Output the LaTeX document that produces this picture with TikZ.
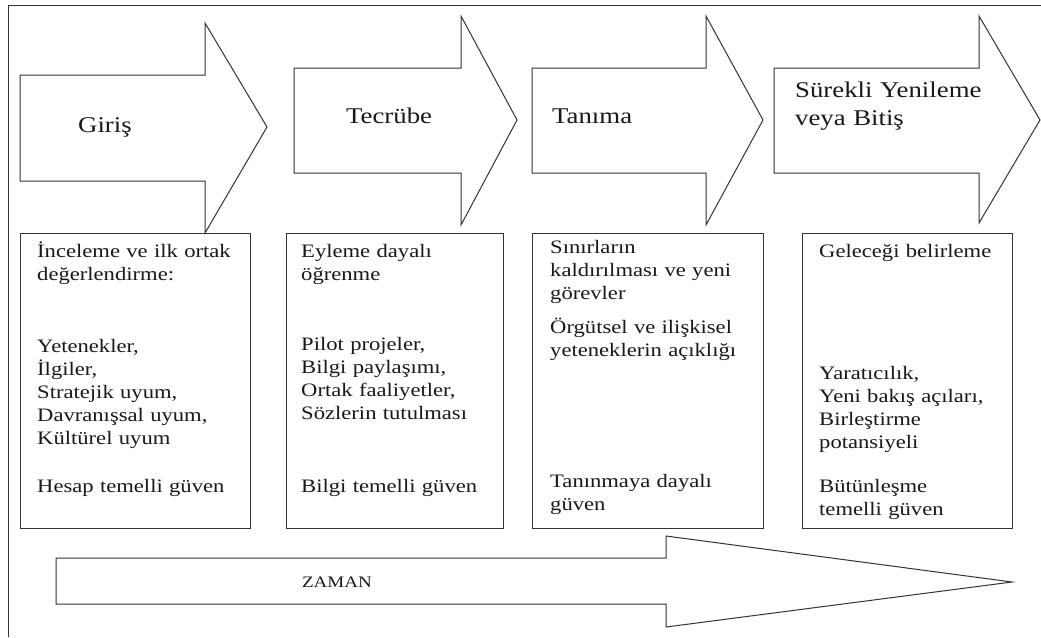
\documentclass[tikz,border=0pt]{standalone}
\usepackage{fontspec}
\setmainfont{Liberation Serif}[FakeStretch=1.19]
\begin{document}
\begin{tikzpicture}[x=1pt,y=-1pt,
  outline/.style={draw=black!80, line width=1pt, line join=miter},
  box/.style={draw=black!80, line width=1pt, inner sep=0pt},
  head/.style={font=\fontsize{22.5}{28}\selectfont, inner sep=0pt, text=black!90},
  body/.style={font=\fontsize{19}{23}\selectfont, inner sep=0pt, text width=240pt,
               align=left, anchor=base west, text=black!90}]
\useasboundingbox (0,0) rectangle (1041,637);
\fill[white] (0,0) rectangle (1041,637);

% frame
\draw[outline] (1041,5) -- (8,5) -- (8,637);

% phase arrows
\draw[outline] (20,75) -- (205,75) -- (205,23) -- (267,127) -- (205,233) -- (205,181) -- (20,181) -- cycle;
\draw[outline] (294,68) -- (461,68) -- (461,16) -- (517,120) -- (461,225) -- (461,173) -- (294,173) -- cycle;
\draw[outline] (532,68) -- (706,68) -- (706,16) -- (763,120) -- (706,225) -- (706,173) -- (532,173) -- cycle;
\draw[outline] (774,68) -- (979,68) -- (979,16) -- (1040,120) -- (979,223) -- (979,173) -- (774,173) -- cycle;

% time arrow
\draw[outline] (56,558) -- (666,558) -- (666,536) -- (1012,582) -- (666,627) -- (666,604) -- (56,604) -- cycle;

% phase titles
\node[head, anchor=base west] (t1) at (78,132) {Giriş};
\node[head, anchor=base west] (t2) at (346,123) {Tecrübe};
\node[head, anchor=base west] (t3) at (552,123) {Tanıma};
\node[head, anchor=base west, text width=240pt, align=left] (t4) at (795,97) {Sürekli Yenileme\\veya Bitiş};

% content boxes
\node[box, minimum width=230pt, minimum height=295pt] (b1) at (135,380.5) {};
\node[box, minimum width=217pt, minimum height=295pt] (b2) at (394.5,380.5) {};
\node[box, minimum width=231pt, minimum height=295pt] (b3) at (647.5,380.5) {};
\node[box, minimum width=210pt, minimum height=295pt] (b4) at (907,380.5) {};

\node[body] (c1) at (37,257) {İnceleme ve ilk ortak\\
değerlendirme:\\[49pt]
Yetenekler,\\
İlgiler,\\
Stratejik uyum,\\
Davranışsal uyum,\\
Kültürel uyum\\[25pt]
Hesap temelli güven};

\node[body] (c2) at (301,257) {Eyleme dayalı\\
öğrenme\\[47pt]
Pilot projeler,\\
Bilgi paylaşımı,\\
Ortak faaliyetler,\\
Sözlerin tutulması\\[50pt]
Bilgi temelli güven};

\node[body] (c3) at (550,253) {Sınırların\\
kaldırılması ve yeni\\
görevler\\[11pt]
Örgütsel ve ilişkisel\\
yeteneklerin açıklığı\\[108pt]
Tanınmaya dayalı\\
güven};

\node[body] (c4) at (819,257) {Geleceği belirleme\\[99pt]
Yaratıcılık,\\
Yeni bakış açıları,\\
Birleştirme\\
potansiyeli\\[21pt]
Bütünleşme\\
temelli güven};

\node[font=\fontsize{16}{19}\selectfont, inner sep=0pt, text=black!90] (zaman) at (337,582) {ZAMAN};
\end{tikzpicture}
\end{document}
